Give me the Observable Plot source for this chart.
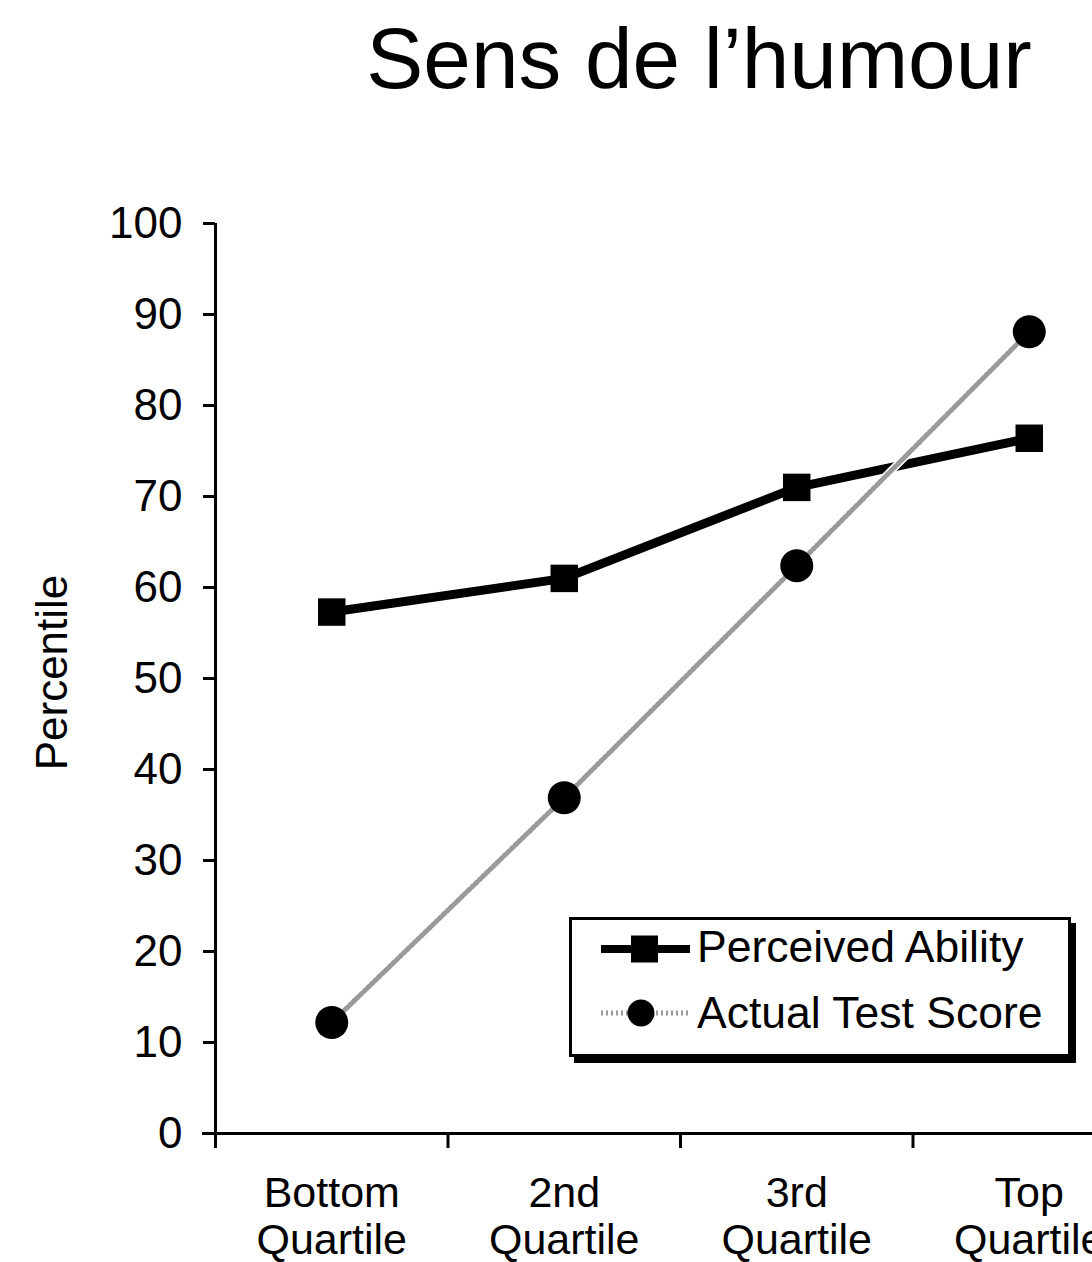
<!DOCTYPE html>
<html>
<head>
<meta charset="utf-8">
<script src="https://cdn.jsdelivr.net/npm/d3@7"></script>
<script src="https://cdn.jsdelivr.net/npm/@observablehq/plot@0.6"></script>
<style>
  body { margin: 0; background: #fff; }
  #wrap { position: relative; width: 1092px; height: 1262px; overflow: hidden; font-family: "Liberation Sans", Arial, sans-serif; color: #000; }
  #title { position: absolute; top: 16px; left: 0; width: 1398px; text-align: center; font-size: 85.5px; line-height: 85.5px; white-space: nowrap; }
  #chart { position: absolute; top: 130px; left: 0; }
  #legend { position: absolute; left: 569px; top: 917px; width: 502px; height: 140px; box-sizing: border-box; border: 3px solid #000; box-shadow: 5px 6px 0 #000; background: #fff; }
  #legend .lab { position: absolute; left: 125px; font-size: 44.5px; line-height: 44.5px; white-space: nowrap; }
  #legend svg { position: absolute; left: 29px; }
</style>
</head>
<body>
<div id="wrap">
  <div id="title">Sens de l’humour</div>
  <div id="chart"></div>
  <div id="legend"></div>
</div>
<script>
// ---- data ----
const categories = ["Bottom\nQuartile", "2nd\nQuartile", "3rd\nQuartile", "Top\nQuartile"];
const perceived = [57.3, 61.0, 71.0, 76.4];
const actual = [12.2, 36.9, 62.4, 88.1];
const yTicks = [0, 10, 20, 30, 40, 50, 60, 70, 80, 90, 100];
const seriesNames = ["Perceived Ability", "Actual Test Score"];
const yLabel = "Percentile";

const rows = categories.map((c, i) => ({i, cat: c, perceived: perceived[i], actual: actual[i]}));
const xDomain = [-0.5, categories.length - 0.5];
const boundaries = categories.slice(1).map((_, i) => i + 0.5);

const chart = Plot.plot({
  width: 1092,
  height: 1132,
  marginTop: 93,
  marginBottom: 129,
  marginLeft: 215,
  marginRight: 0,
  style: {fontSize: "44px", fontFamily: "'Liberation Sans', Arial, sans-serif", color: "#000", background: "transparent", overflow: "visible"},
  x: {type: "linear", domain: xDomain, range: [215, 1145]},
  y: {domain: [0, 100]},
  marks: [
    Plot.ruleY([0], {insetLeft: -13, stroke: "#000", strokeWidth: 3}),
    Plot.ruleX([xDomain[0]], {insetBottom: -15, stroke: "#000", strokeWidth: 3}),
    Plot.axisY({ticks: yTicks, tickSize: 12, tickPadding: 21, strokeWidth: 3, label: null, tickFormat: d => String(d)}),
    Plot.axisX({ticks: boundaries, tickSize: 15, strokeWidth: 3, label: null, tickFormat: () => ""}),
    Plot.text(rows, {x: "i", text: "cat", frameAnchor: "bottom", lineAnchor: "top", dy: 40, lineHeight: 1.1, fontSize: 43}),
    Plot.text([yLabel], {text: d => d, frameAnchor: "left", textAnchor: "middle", rotate: -90, lineAnchor: "top", dx: -180, dy: -6, fontSize: 44}),
    // Perceived ability
    Plot.line(rows, {x: "i", y: "perceived", stroke: "#000", strokeWidth: 9}),
    Plot.dot(rows, {x: "i", y: "perceived", symbol: "square", r: 15.5, fill: "#000"}),
    // Actual test score
    Plot.line(rows, {x: "i", y: "actual", stroke: "#fff", strokeWidth: 8}),
    Plot.line(rows, {x: "i", y: "actual", stroke: "#9a9a9a", strokeWidth: 5, strokeDasharray: "2,3"}),
    Plot.dot(rows, {x: "i", y: "actual", symbol: "circle", r: 16.5, fill: "#000"})
  ]
});
document.getElementById("chart").appendChild(chart);

// ---- legend ----
const legend = document.getElementById("legend");
legend.innerHTML = `
  <svg width="92" height="32" style="top:13px">
    <line x1="0" x2="89" y1="16" y2="16" stroke="#000" stroke-width="8"/>
    <rect x="30" y="2.5" width="27" height="27" fill="#000"/>
  </svg>
  <div class="lab" style="top:5px">${seriesNames[0]}</div>
  <svg width="92" height="32" style="top:77px">
    <line x1="0" x2="89" y1="16" y2="16" stroke="#9a9a9a" stroke-width="5" stroke-dasharray="2,3"/>
    <circle cx="40" cy="16" r="13.5" fill="#000"/>
  </svg>
  <div class="lab" style="top:71px">${seriesNames[1]}</div>
`;
</script>
</body>
</html>
